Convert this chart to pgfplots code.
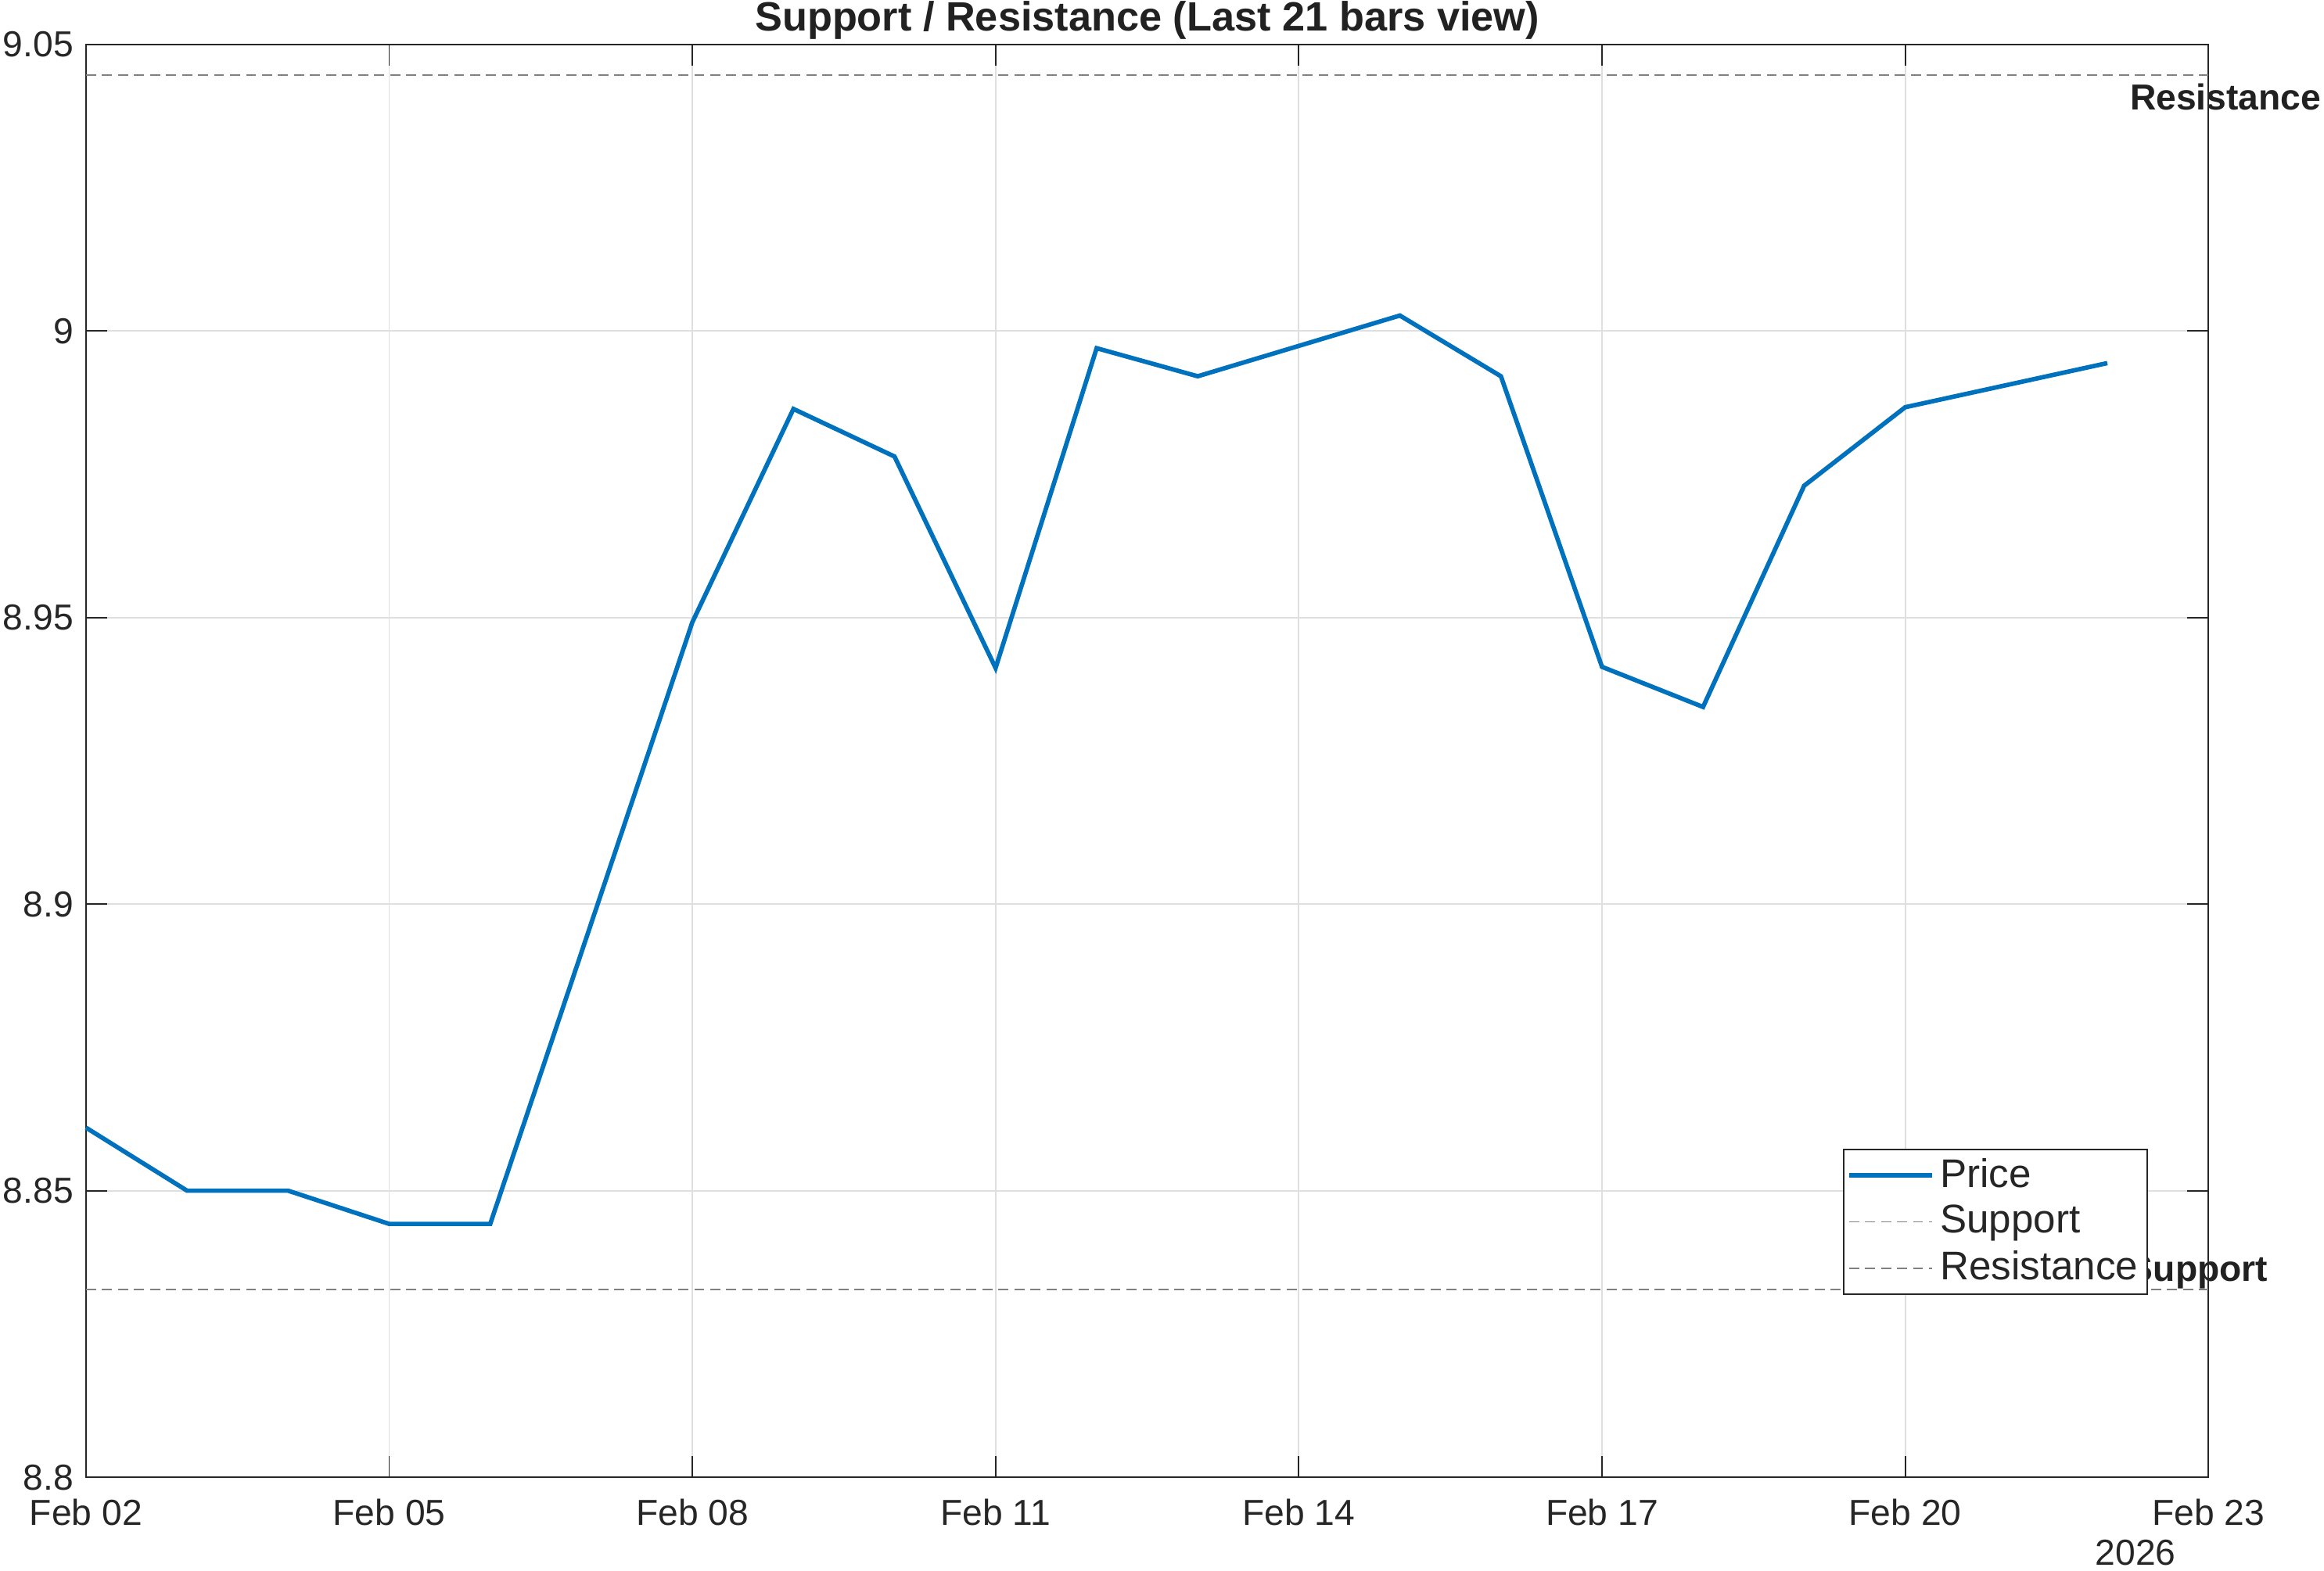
\documentclass[border=0pt]{standalone}
\usepackage{fontspec}
\setmainfont{Liberation Sans}
\usepackage{pgfplots}
\pgfplotsset{compat=1.18}
\definecolor{priceblue}{RGB}{0,114,189}
\definecolor{axgray}{RGB}{38,38,38}
\definecolor{gridgray}{RGB}{223,223,223}
\definecolor{refgray}{RGB}{128,128,128}
\begin{document}
\fontsize{12.2}{14.6}\selectfont
\begin{tikzpicture}
\path[use as bounding box] (-29pt,-31.5pt) rectangle (755pt,498.5pt);
% labels drawn first, so that the legend lies over them
\begin{axis}[
  at={(0,0)}, anchor=south west,
  scale only axis, width=716pt, height=483.5pt,
  xmin=0, xmax=21, ymin=8.8, ymax=9.05,
  clip=false, hide axis,
]
\addplot[draw=none, forget plot] coordinates {(0,8.8328) (21,9.0446)};
\node[anchor=north west, font=\fontsize{12.2}{14.6}\selectfont\bfseries, text=black!87, inner sep=1pt, yshift=-1.5pt] at (axis cs:20.19,9.0446) {Resistance};
\node[anchor=south west, font=\fontsize{12.2}{14.6}\selectfont\bfseries, text=black!87, inner sep=0pt] at (axis cs:20.21,8.8328) {Support};
\end{axis}
\begin{axis}[
  at={(0,0)}, anchor=south west,
  scale only axis, width=716pt, height=483.5pt,
  xmin=0, xmax=21, ymin=8.8, ymax=9.05,
  clip=false,
  xtick={0,3,6,9,12,15,18,21},
  xticklabels={Feb 02,Feb 05,Feb 08,Feb 11,Feb 14,Feb 17,Feb 20,Feb 23},
  ytick={8.8,8.85,8.9,8.95,9,9.05},
  yticklabels={8.8,8.85,8.9,8.95,9,9.05},
  tick align=inside, major tick length=7.2pt,
  axis line style={axgray, line width=0.5pt},
  tick style={axgray, line width=0.5pt},
  grid=major, major grid style={gridgray, line width=0.5pt},
  every tick label/.append style={font=\fontsize{12.2}{14.6}\selectfont, text=axgray},
  xticklabel style={yshift=-3pt},
  title={Support / Resistance (Last 21 bars view)},
  title style={font=\fontsize{13.8}{16}\selectfont\bfseries, text=black!87, yshift=-8.5pt},
  legend style={at={(0.9714,0.1272)}, anchor=south east, draw=axgray, line width=0.5pt,
    fill=white, font=\fontsize{13.5}{16}\selectfont, text=axgray, inner xsep=1pt, inner ysep=1pt, row sep=0.2pt},
  legend cell align=left,
  legend image code/.code={\draw[#1] (0pt,0pt) -- (28pt,0pt);},
]
\addplot[priceblue, line width=1.5pt] coordinates {
  (0,8.8610) (1,8.8500) (2,8.8500) (3,8.8442) (4,8.8442)
  (6,8.9492) (7,8.9864) (8,8.9781) (9,8.9412) (10,8.9970)
  (11,8.9921) (13,9.0027) (14,8.9921) (15,8.9414) (16,8.9344)
  (17,8.9730) (18,8.9867) (20,8.9944)
};
\addlegendentry{Price}
\addplot[refgray, line width=0.5pt, dash pattern=on 3.4pt off 2pt] coordinates {(0,8.8328) (21,8.8328)};
\addlegendentry{Support}
\addplot[refgray, line width=0.5pt, dash pattern=on 3.4pt off 2pt] coordinates {(0,9.0446) (21,9.0446)};
\addlegendentry{Resistance}
\node[anchor=center, text=axgray, font=\fontsize{12.2}{14.6}\selectfont] at (axis cs:20.28,8.8) [yshift=-25.5pt] {2026};
\end{axis}
\end{tikzpicture}
\end{document}
